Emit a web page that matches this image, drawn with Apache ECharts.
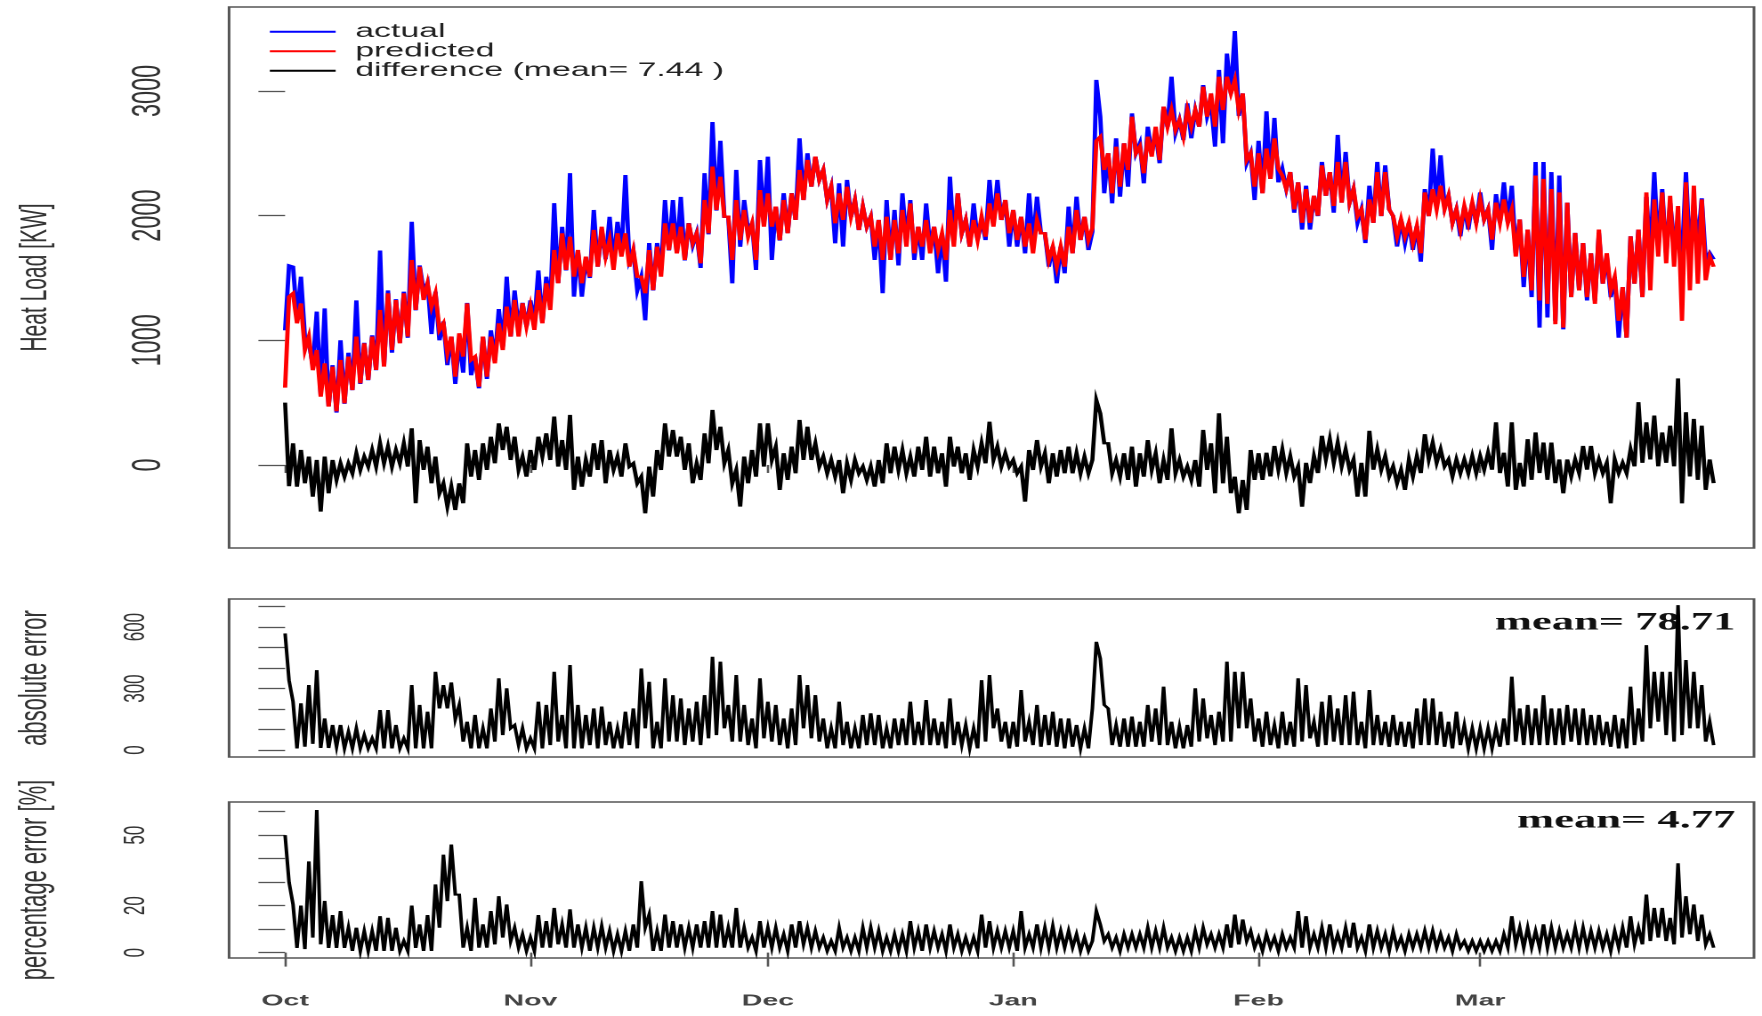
<!DOCTYPE html>
<html>
<head>
<meta charset="utf-8">
<script src="https://cdn.jsdelivr.net/npm/echarts@6/dist/echarts.min.js"></script>
<style>
  html, body { margin: 0; padding: 0; background: #fff; overflow: hidden; width: 1762px; height: 1016px; }
  /* the plot is laid out on a narrow canvas and widened horizontally */
  #chart { width: 990px; height: 1016px; transform: scaleX(1.7798); transform-origin: 0 0; }
</style>
</head>
<body>
<div id="chart"></div>
<script>
// Half-day samples starting 1 October, 00:00 (x is measured in days)
const stepDays = 0.5;

const monthTicks = [0, 31, 61, 92, 123, 151];
const monthNames = ['Oct', 'Nov', 'Dec', 'Jan', 'Feb', 'Mar'];

const loadTicks = [0, 1000, 2000, 3000];
const absTicks = [0, 100, 200, 300, 400, 500, 600, 700];
const absLabels = [0, 300, 600];
const pctTicks = [0, 10, 20, 30, 40, 50, 60];
const pctLabels = [0, 20, 50];

// Heat load [kW], measured
const actual = [
  1080,1600, 1590,1190, 1510,1030, 980,800, 1230,560, 1256,470, 800,420, 1000,490, 900,600, 1320,650,
  980,680, 1040,760, 1720,790, 1400,900, 1330,980, 1390,1020, 1950,1240, 1600,1400, 1460,1050, 1390,1000,
  1150,800, 1030,650, 1000,740, 1300,720, 870,615, 1030,690, 1080,840, 1250,950, 1510,1030, 1400,1100,
  1300,1110, 1320,1140, 1560,1140, 1510,1280, 2100,1460, 1910,1560, 2340,1350, 1720,1350, 1650,1500, 2045,1590,
  1890,1650, 1990,1620, 1950,1700, 2325,1640, 1720,1400, 1510,1160, 1780,1400, 1780,1560, 2125,1720, 2125,1700,
  2150,1640, 1940,1760, 1860,1580, 2340,1850, 2750,2040, 2600,1990, 1990,1457, 2366,1750, 2125,1880, 1938,1564,
  2446,1930, 2473,1644, 2072,1800, 2180,1860, 2180,1965, 2620,2125, 2500,2232, 2473,2286, 2366,2125, 2232,1778,
  2259,1751, 2286,1991, 2125,1884, 2072,1911, 1991,1644, 1965,1377, 2125,1644, 2045,1600, 2179,1804, 2125,1644,
  1911,1644, 2098,1751, 1911,1537, 1858,1470, 2312,1804, 2179,1858, 1965,1751, 2098,1804, 1965,1804, 2286,1938,
  2286,1965, 2125,1751, 2045,1751, 1991,1697, 2179,1778, 2152,1858, 1858,1590, 1751,1457, 1751,1537, 2072,1697,
  2152,1804, 1991,1724, 1870,3088, 2793,2179, 2500,2098, 2620,2152, 2580,2232, 2820,2500, 2580,2259, 2713,2500,
  2660,2420, 2874,2713, 3114,2660, 2767,2606, 2900,2620, 2847,2713, 3047,2793, 2900,2553, 3168,2580, 3300,2980,
  3480,2800, 2980,2420, 2500,2125, 2600,2180, 2837,2294, 2783,2267, 2376,2213, 2349,2023, 2267,1888, 2240,1888,
  2159,1996, 2430,2159, 2349,2023, 2647,2104, 2511,2104, 2213,1942, 2050,1780, 2240,1942, 2430,1996, 2403,2050,
  1996,1752, 1969,1780, 1942,1725, 1915,1630, 2213,1996, 2538,2077, 2484,2077, 2159,1942, 2050,1834, 2077,1888,
  2104,1942, 2186,1969, 2050,1725, 2172,1942, 2267,1942, 2240,1698, 1969,1427, 1888,1346, 2430,1102, 2430,1183,
  2349,1156, 2321,1088, 2104,1346, 1861,1400, 1780,1319, 1698,1319, 1861,1454, 1671,1346, 1508,1021, 1427,1021,
  1834,1454, 1888,1346, 2150,1700, 2348,1750, 2213,1700, 2100,1800, 1888,1671, 2348,1700, 2100,1780, 2139,1650,
  1700,1650
];

// Heat load [kW], model output
const predicted = [
  620,1350, 1377,1136, 1296,922, 1030,760, 922,548, 815,468, 788,430, 842,494, 869,601, 1030,655,
  976,682, 1030,762, 1243,789, 1377,922, 1323,976, 1377,1030, 1644,1243, 1590,1323, 1457,1270, 1377,1083,
  1136,896, 1030,708, 1056,869, 1296,842, 869,628, 1030,708, 1030,815, 1136,922, 1270,1030, 1323,1030,
  1297,1110, 1270,1083, 1403,1136, 1457,1243, 1724,1457, 1858,1564, 1831,1510, 1724,1457, 1671,1510, 1885,1590,
  1911,1671, 1804,1564, 1858,1671, 1858,1590, 1724,1510, 1510,1377, 1724,1403, 1751,1510, 1938,1724, 1938,1697,
  1911,1644, 1938,1778, 1858,1617, 2125,1858, 2393,2045, 2312,1991, 1991,1644, 2125,1804, 2045,1831, 1938,1644,
  2205,1911, 2179,1911, 2072,1804, 2125,1858, 2179,1965, 2366,2125, 2446,2232, 2473,2286, 2366,2125, 2232,1938,
  2179,1965, 2232,1991, 2125,1884, 2072,1911, 1991,1751, 1965,1644, 1991,1644, 1965,1697, 2045,1751, 2098,1697,
  1911,1751, 1965,1697, 1911,1724, 1858,1644, 2045,1751, 2179,1858, 1965,1751, 1965,1804, 1991,1831, 2098,1911,
  2179,1965, 2125,1858, 2045,1804, 1991,1751, 1938,1697, 1965,1858, 1858,1644, 1751,1590, 1751,1590, 1911,1697,
  2045,1804, 1991,1804, 1900,2600, 2633,2366, 2500,2179, 2553,2232, 2580,2366, 2793,2500, 2553,2339, 2633,2473,
  2713,2446, 2874,2713, 2847,2687, 2767,2633, 2847,2713, 2847,2713, 3034,2793, 2980,2713, 3114,2847, 3114,2980,
  3088,2847, 2980,2446, 2500,2232, 2500,2179, 2538,2294, 2620,2376, 2321,2213, 2349,2050, 2267,1942, 2213,1942,
  2159,2000, 2403,2159, 2349,2077, 2430,2104, 2430,2104, 2213,1996, 2050,1807, 2130,1942, 2349,1996, 2349,2050,
  1996,1834, 1969,1834, 1942,1780, 1915,1698, 2186,1996, 2213,2050, 2240,2050, 2159,1942, 2050,1888, 2077,1942,
  2104,1942, 2130,1969, 2050,1807, 2104,1942, 2130,1942, 2050,1671, 1969,1508, 1888,1400, 2321,1319, 2294,1292,
  2213,1129, 2186,1102, 2104,1346, 1861,1400, 1780,1346, 1698,1292, 1888,1454, 1698,1400, 1508,1156, 1427,1021,
  1834,1454, 1888,1346, 2186,1400, 2130,1671, 2186,1617, 2159,1590, 2077,1156, 2267,1400, 2240,1454, 2130,1481,
  1671,1590
];

// actual - predicted [kW]
const difference = [
  500,-170, 174,-174, 120,-147, 67,-254, 40,-374, 67,-227, 40,-120, 13,-94, 13,-67, 94,-40,
  67,-13, 120,-13, 174,13, 147,-13, 120,13, 174,-13, 294,-307, 200,-40, 147,-147, 67,-227,
  -147,-334, -174,-361, -147,-307, 174,-94, 120,-120, 174,-40, 227,13, 334,120, 307,40, 227,-40,
  67,-94, 120,-40, 227,67, 254,40, 388,-13, 200,-40, 401,-200, 67,-174, 40,-94, 174,-40,
  200,-147, 120,-40, 67,-94, 174,-13, 13,-147, -94,-388, -13,-254, 120,-40, 334,67, 281,67,
  227,-40, 174,-147, 13,-120, 254,13, 441,120, 307,13, 120,-147, -40,-334, 67,-147, 120,-94,
  334,-13, 334,40, 147,-200, 94,-120, 147,-67, 361,40, 307,40, 174,-13, 67,-67, 40,-94,
  40,-227, 13,-120, 40,-67, -13,-120, -13,-174, 40,-147, 174,-67, 147,-40, 120,-67, 67,-94,
  147,-40, 227,-94, 147,-67, 94,-174, 227,-13, 147,-67, 94,-120, 120,-13, 174,13, 347,40,
  147,-13, 94,-13, 40,-67, -13,-294, 120,-40, 200,-13, 94,-147, 94,-94, 120,-67, 147,-67,
  94,-67, 67,-67, 40,521, 414,174, 174,-67, 40,-94, 94,-120, 147,-174, 94,-94, 200,-40,
  94,-147, 40,-120, 294,-67, 40,-94, -13,-120, 40,-174, 281,-40, 174,-227, 414,-147, 227,-227,
  -94,-388, -120,-361, 120,-120, 94,-120, 98,-92, 152,-38, 125,-65, 71,-92, -11,-335, 17,-146,
  71,-65, 234,44, 207,17, 180,-11, 125,-38, 44,-254, 17,-254, 274,-38, 125,-38, 71,-92,
  -11,-146, -38,-200, 44,-92, 71,-65, 247,44, 180,17, 125,-11, 44,-92, 44,-65, 44,-65,
  71,-65, 71,-38, 98,-38, 342,-65, 98,-173, 342,-200, 17,-173, 207,-119, 261,-65, 180,-119,
  180,-146, 44,-227, 44,-92, 44,-65, 152,-38, 152,-65, 44,-65, 17,-308, 44,-65, 17,-65,
  125,-11, 504,17, 342,44, 396,-11, 261,17, 315,-11, 694,-308, 423,-92, 369,-119, 315,-200,
  44,-146
];

// |actual - predicted| [kW]
const absError = [
  569,340, 236,8, 228,16, 317,30, 390,10, 154,10, 122,16, 122,8, 89,8, 106,8,
  73,8, 57,8, 195,8, 195,8, 122,8, 57,8, 317,8, 220,8, 187,8, 382,203,
  317,203, 330,150, 220,41, 138,8, 171,8, 106,8, 203,41, 350,73, 301,106, 122,24,
  106,8, 57,8, 236,8, 220,24, 382,41, 171,8, 415,8, 220,8, 171,24, 203,8,
  212,24, 138,8, 106,8, 187,24, 203,8, 398,106, 333,8, 138,8, 350,41, 268,41,
  252,24, 203,41, 236,24, 268,57, 455,73, 431,106, 220,41, 366,41, 220,24, 154,8,
  350,57, 236,41, 220,24, 154,8, 203,24, 366,106, 317,57, 268,41, 154,8, 106,8,
  236,24, 138,8, 106,8, 171,24, 179,24, 171,8, 106,8, 154,24, 154,24, 236,24,
  138,24, 244,24, 154,24, 138,8, 252,24, 138,24, 122,8, 106,8, 341,41, 366,106,
  203,41, 138,8, 138,16, 293,41, 138,24, 220,16, 171,24, 187,16, 154,8, 154,16,
  122,8, 106,8, 203,528, 447,220, 203,24, 122,16, 154,16, 163,16, 138,16, 220,41,
  203,24, 309,24, 138,8, 114,8, 122,16, 301,41, 252,57, 171,24, 187,41, 431,41,
  382,106, 382,106, 252,41, 154,16, 187,24, 122,8, 187,24, 138,16, 350,41, 317,57,
  138,16, 236,24, 268,41, 203,24, 268,24, 285,24, 138,8, 293,24, 171,24, 138,16,
  171,24, 138,16, 138,8, 203,24, 252,24, 252,24, 187,16, 138,8, 187,24, 122,8,
  106,8, 106,8, 106,8, 106,16, 154,24, 358,41, 203,24, 220,24, 203,24, 268,24,
  203,24, 203,24, 220,41, 203,24, 203,24, 171,24, 171,24, 138,16, 171,8, 154,8,
  309,24, 203,41, 512,106, 382,138, 382,73, 382,41, 707,73, 439,106, 382,106, 317,41,
  138,24
];

// |actual - predicted| / actual [%]
const pctError = [
  50,30, 20.5,2, 20,1.5, 38.8,6.4, 60.7,3.5, 22,2, 16,2, 17.7,2, 10.6,0.7, 10.6,0.7,
  9.2,0.7, 9.2,0.7, 15.5,0.7, 14.8,0.7, 10.6,0.7, 5,0.7, 20,2, 12,0.7, 16,0.7, 29,10.6,
  41.7,21.9, 46,24.7, 24.7,2.1, 10.6,0.7, 23.3,2.1, 12,2.1, 17.7,3.5, 24,6.4, 20.5,4.9, 10.6,2.1,
  7.8,0.7, 6.4,0.7, 16,2.1, 13.4,2.1, 19,3.5, 12,2.1, 18.4,2.1, 12,2.1, 10.6,0.7, 10.6,2.1,
  11.3,2.1, 9.2,0.7, 7.8,0.7, 9.2,0.7, 12,2.1, 30.4,10.6, 16.2,0.7, 9.2,0.7, 16.2,2.1, 13.4,2.1,
  12,2.1, 10.6,2.1, 12,2.1, 13.4,2.1, 17.7,2.1, 16.2,2.1, 10.6,2.1, 19,2.1, 10.6,2.1, 6.4,0.7,
  13.4,2.1, 10.6,2.1, 10.6,2.1, 7.8,0.7, 12,2.1, 13.4,3.5, 10.6,2.1, 9.2,2.1, 6.4,0.7, 4.9,0.7,
  10.6,2.1, 6.4,0.7, 6.4,0.7, 10.6,2.1, 10.6,2.1, 9.2,0.7, 6.4,0.7, 7.8,0.7, 7.8,0.7, 13.4,2.1,
  9.2,0.7, 12,2.1, 9.2,2.1, 7.8,0.7, 12,2.1, 7.8,0.7, 6.4,0.7, 6.4,0.7, 16.2,2.1, 13.4,2.1,
  9.2,2.1, 9.2,2.1, 9.2,0.7, 17.7,2.1, 7.8,2.1, 12,2.1, 10.6,2.1, 11.3,2.1, 9.2,2.1, 9.2,2.1,
  7.8,0.7, 6.4,0.7, 4.9,17.7, 12,4.9, 7.8,2.1, 6.4,0.7, 7.8,2.1, 7.8,2.1, 7.8,2.1, 10.6,2.1,
  9.2,2.1, 10.6,2.1, 6.4,0.7, 6.4,0.7, 6.4,0.7, 9.2,2.1, 10.6,3.5, 7.8,2.1, 7.8,2.1, 12,2.1,
  16.2,3.5, 14.1,4.9, 9.2,2.1, 6.4,0.7, 7.8,2.1, 6.4,0.7, 7.8,2.1, 6.4,2.1, 17.7,2.1, 15.5,2.1,
  7.8,2.1, 10.6,2.1, 12,2.1, 7.8,2.1, 10.6,2.1, 12.7,2.1, 6.4,0.7, 12,2.1, 9.2,2.1, 7.8,0.7,
  9.2,2.1, 6.4,0.7, 7.8,2.1, 7.8,2.1, 9.2,2.1, 9.2,2.1, 7.8,2.1, 6.4,0.7, 7.8,2.1, 4.9,0.7,
  4.9,0.7, 4.9,0.7, 4.9,0.7, 4.9,0.7, 7.8,2.1, 15.5,3.5, 10.6,2.1, 10.6,2.1, 9.2,2.1, 12,2.1,
  10.6,2.1, 9.2,2.1, 7.8,2.1, 10.6,2.1, 10.6,2.1, 9.2,2.1, 9.2,2.1, 7.8,0.7, 9.2,2.1, 10.6,2.1,
  15.5,3.5, 10.6,3.5, 24.7,4.9, 19,6.4, 19,4.9, 14.8,3.5, 38,6.4, 24,7.8, 20.5,4.9, 16.2,3.5,
  7.8,2.1
];

const diffLabel = 'difference (mean= 7.44 )';
const absMeanText = 'mean= 78.71';
const pctMeanText = 'mean= 4.77';

function toPoints(values) {
  return values.map(function (v, i) { return [i * stepDays, v]; });
}

const sans = '"Liberation Sans", Arial, Helvetica, sans-serif';
const frame = '#555';
const textColor = '#333';
const gridLeft = 128.7, gridRight = 4.5;

function xAxisFor(gridIndex, withTicks, tickLen, withLabels) {
  return {
    type: 'value', gridIndex: gridIndex, min: -7.08, max: 185.6,
    splitLine: { show: false }, axisLine: { show: false },
    axisTick: { show: withTicks, customValues: monthTicks, length: tickLen, inside: false,
                lineStyle: { color: frame, width: 1.3 } },
    axisLabel: withLabels ? {
      show: true, customValues: monthTicks, margin: 35,
      formatter: function (v) { return monthNames[monthTicks.indexOf(v)]; },
      fontFamily: sans, fontSize: 16, fontWeight: 'bold', color: '#444'
    } : { show: false }
  };
}

function yAxisFor(gridIndex, min, max, ticks, labels, fontSize, margin, name, nameSize) {
  return {
    type: 'value', gridIndex: gridIndex, min: min, max: max,
    splitLine: { show: false }, axisLine: { show: false },
    axisTick: { show: true, customValues: ticks, length: 15, lineStyle: { color: frame, width: 1.3 } },
    axisLabel: { show: true, customValues: labels, rotate: 90, margin: margin,
                 formatter: function (v) { return String(v); },
                 fontFamily: sans, fontSize: fontSize, color: textColor },
    name: name, nameLocation: 'middle', nameRotate: 90, nameGap: 98,
    nameTextStyle: { fontFamily: sans, fontSize: nameSize, color: textColor }
  };
}

function lineSeries(name, values, color, width, xi, yi) {
  return {
    name: name, type: 'line', xAxisIndex: xi, yAxisIndex: yi,
    data: toPoints(values), showSymbol: false, symbol: 'none',
    lineStyle: { color: color, width: width, join: 'miter' }, itemStyle: { color: color },
    emphasis: { disabled: true }, silent: true
  };
}

const chart = echarts.init(document.getElementById('chart'), null, { devicePixelRatio: 2 });

chart.setOption({
  animation: false,
  backgroundColor: '#fff',
  grid: [
    { left: gridLeft, right: gridRight, top: 7, height: 541, show: true, borderColor: frame, borderWidth: 1.5, backgroundColor: 'transparent' },
    { left: gridLeft, right: gridRight, top: 599, height: 158, show: true, borderColor: frame, borderWidth: 1.5, backgroundColor: 'transparent' },
    { left: gridLeft, right: gridRight, top: 802, height: 156, show: true, borderColor: frame, borderWidth: 1.5, backgroundColor: 'transparent' }
  ],
  legend: {
    orient: 'vertical', left: 146.6, top: 17, itemWidth: 37, itemHeight: 2, itemGap: 0,
    icon: 'rect', selectedMode: false,
    data: ['actual', 'predicted', diffLabel],
    textStyle: { fontFamily: sans, fontSize: 19, color: '#222', lineHeight: 19.5, padding: [0, 0, 0, 6] }
  },
  xAxis: [
    xAxisFor(0, true, 8, false),
    xAxisFor(1, false, 0, false),
    xAxisFor(2, true, 14, true)
  ],
  yAxis: [
    yAxisFor(0, -666, 3673, loadTicks, loadTicks, 23.5, 33, 'Heat Load [KW]', 21),
    yAxisFor(1, -34, 737, absTicks, absLabels, 17, 44, 'absolute error', 22),
    yAxisFor(2, -2.3, 64.1, pctTicks, pctLabels, 17, 44, 'percentage error [%]', 22)
  ],
  graphic: [
    { type: 'text', z: 0, x: 975, y: 623,
      style: { text: absMeanText, align: 'right', verticalAlign: 'middle',
               fontFamily: '"Liberation Serif", "Times New Roman", serif', fontWeight: 'bold', fontSize: 25, fill: '#111' } },
    { type: 'text', z: 0, x: 975, y: 821,
      style: { text: pctMeanText, align: 'right', verticalAlign: 'middle',
               fontFamily: '"Liberation Serif", "Times New Roman", serif', fontWeight: 'bold', fontSize: 25, fill: '#111' } }
  ],
  series: [
    lineSeries('actual', actual, '#0000ff', 2.4, 0, 0),
    lineSeries('predicted', predicted, '#ff0000', 2.4, 0, 0),
    lineSeries(diffLabel, difference, '#000000', 2.3, 0, 0),
    lineSeries('absolute error', absError, '#000000', 2.0, 1, 1),
    lineSeries('percentage error', pctError, '#000000', 2.0, 2, 2)
  ]
});
</script>
</body>
</html>
